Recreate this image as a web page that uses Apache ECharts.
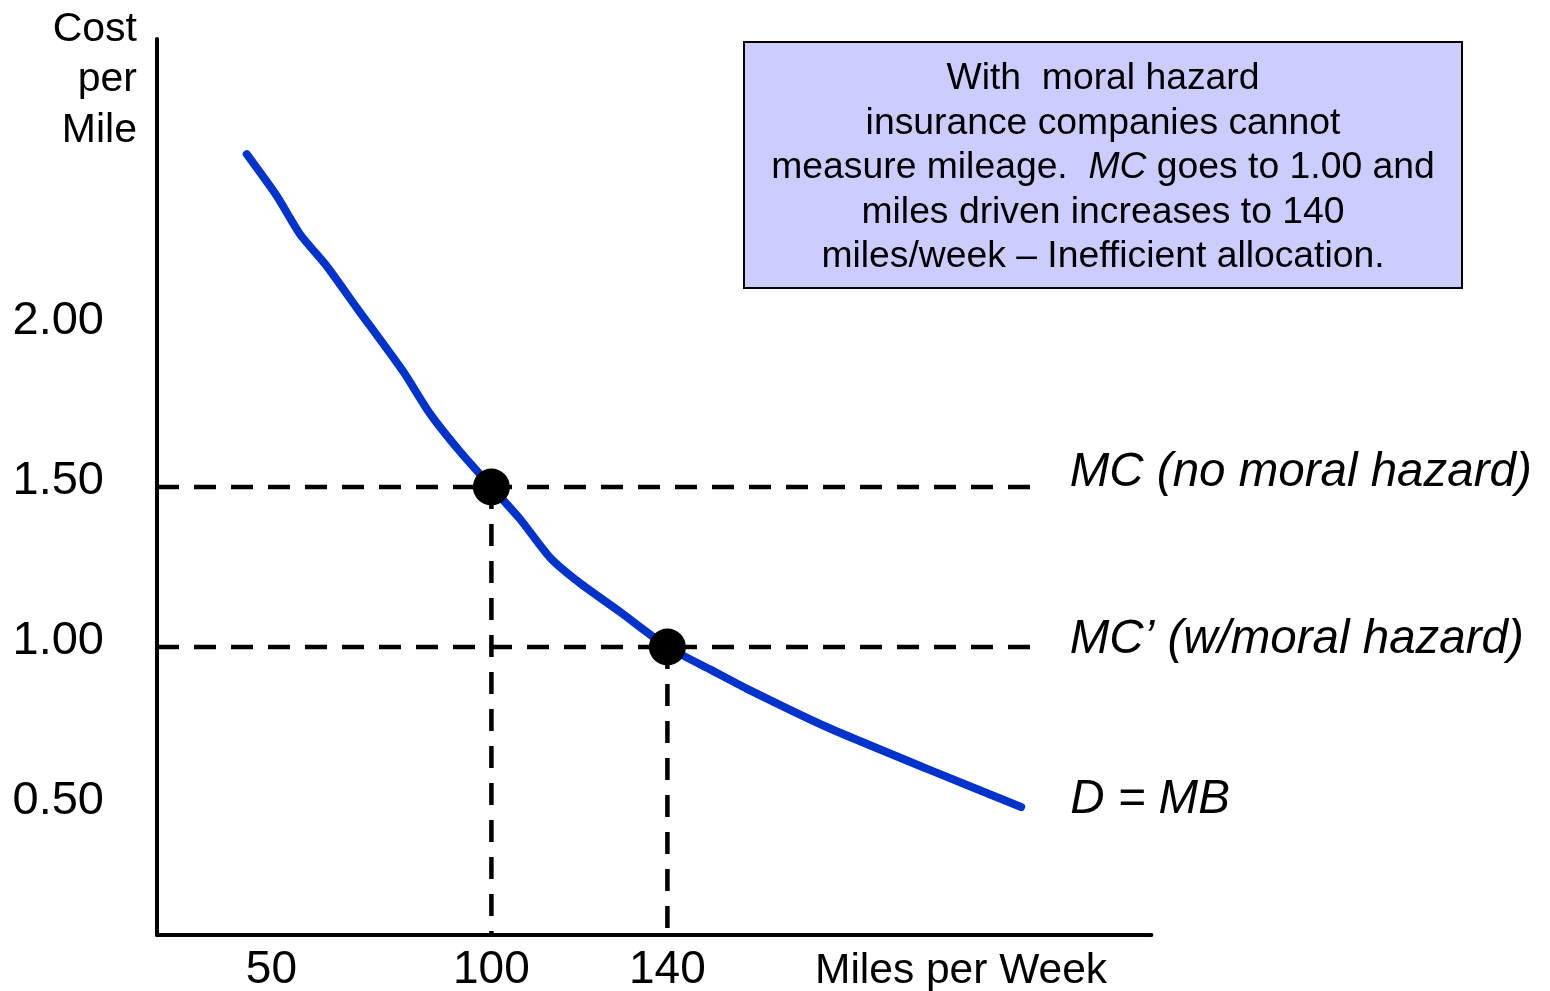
<!DOCTYPE html>
<html>
<head>
<meta charset="utf-8">
<script src="https://cdn.jsdelivr.net/npm/echarts@6/dist/echarts.min.js"></script>
<style>
  html, body { margin: 0; padding: 0; background: #fff; }
  #chart { width: 1550px; height: 991px; }
</style>
</head>
<body>
<div id="chart"></div>
<script>
// Demand (= marginal benefit) curve: miles driven per week vs cost per mile
const demandMiles = [44.4, 51.2, 56.5, 62.6, 69.4, 80.0, 86.0, 92.9, 100, 106.5, 113.3, 120.1, 129.2, 140, 149.7, 158, 176.2, 198.9, 220.4];
const demandCost  = [2.54, 2.41, 2.29, 2.19, 2.06, 1.86, 1.73, 1.61, 1.50, 1.40, 1.28, 1.20, 1.11, 1.00, 0.93, 0.87, 0.75, 0.62, 0.50];

// Marginal cost levels and the quantities where they meet demand
const mcLevels = [1.50, 1.00];
const mcLabels = ['MC (no moral hazard)', 'MC\u2019 (w/moral hazard)'];
const equilibriumMiles = [100, 140];
const mcLineEnd = 223.5;
const demandLabel = 'D = MB';

// Axis ticks and ranges
const xTicks = [50, 100, 140];
const yTicks = [0.50, 1.00, 1.50, 2.00];
const xRange = [24, 250];
const yRange = [0.1, 2.9];

const FONT = "'Liberation Sans', Arial, Helvetica, sans-serif";
const dash = [22, 15];
const labelOffsets = [-14, -7];

const series = [];

// Horizontal MC lines with their labels
mcLevels.forEach((level, i) => {
  series.push({
    type: 'line',
    data: [[xRange[0], level], [mcLineEnd, level]],
    showSymbol: false,
    silent: true,
    z: 2,
    lineStyle: { color: '#000', width: 4.5, type: dash },
    endLabel: {
      show: true,
      formatter: mcLabels[i],
      color: '#000',
      fontFamily: FONT,
      fontStyle: 'italic',
      fontSize: 47.5,
      distance: 35,
      offset: [0, labelOffsets[i]]
    }
  });
});

// Vertical drop lines from each intersection to the quantity axis
equilibriumMiles.forEach((miles, i) => {
  series.push({
    type: 'line',
    data: [[miles, mcLevels[i]], [miles, yRange[0]]],
    showSymbol: false,
    silent: true,
    z: 2,
    lineStyle: { color: '#000', width: 4.5, type: dash }
  });
});

// Demand curve
series.push({
  type: 'line',
  data: demandMiles.map((m, i) => [m, demandCost[i]]),
  smooth: 0.2,
  showSymbol: false,
  silent: true,
  z: 3,
  lineStyle: { color: '#0033cc', width: 8, cap: 'round', join: 'round' },
  endLabel: {
    show: true,
    formatter: demandLabel,
    color: '#000',
    fontFamily: FONT,
    fontStyle: 'italic',
    fontSize: 47.5,
    distance: 49,
    offset: [0, -7]
  }
});

// Intersection points
series.push({
  type: 'scatter',
  data: equilibriumMiles.map((m, i) => [m, mcLevels[i]]),
  symbol: 'circle',
  symbolSize: 37,
  silent: true,
  z: 4,
  itemStyle: { color: '#000', opacity: 1 }
});

const chart = echarts.init(document.getElementById('chart'), null, { renderer: 'canvas' });

chart.setOption({
  animation: false,
  backgroundColor: '#fff',
  grid: {
    left: 157,
    top: 39,
    width: 994.4,
    height: 896,
    containLabel: false,
    outerBoundsMode: 'none'
  },
  xAxis: {
    type: 'value',
    min: xRange[0],
    max: xRange[1],
    splitLine: { show: false },
    axisTick: { show: false },
    axisLine: { show: true, onZero: false, lineStyle: { color: '#000', width: 4 } },
    axisLabel: {
      customValues: xTicks,
      formatter: v => String(v),
      color: '#000',
      fontFamily: FONT,
      fontSize: 46,
      margin: 12
    }
  },
  yAxis: {
    type: 'value',
    min: yRange[0],
    max: yRange[1],
    splitLine: { show: false },
    axisTick: { show: false },
    axisLine: { show: true, onZero: false, lineStyle: { color: '#000', width: 4 } },
    axisLabel: {
      customValues: yTicks,
      formatter: v => '{v|' + v.toFixed(2) + '}',
      color: '#000',
      fontFamily: FONT,
      fontSize: 47,
      margin: 53,
      rich: {
        v: { color: '#000', fontFamily: FONT, fontSize: 47, padding: [0, 0, 12, 0] }
      }
    }
  },
  series: series,
  graphic: [
    {
      type: 'text',
      x: 137,
      y: 80,
      style: {
        text: 'Cost\nper\nMile',
        fill: '#000',
        font: '41px ' + FONT,
        align: 'right',
        verticalAlign: 'middle',
        lineHeight: 50.5
      }
    },
    {
      type: 'text',
      x: 815,
      y: 971,
      style: {
        text: 'Miles per Week',
        fill: '#000',
        font: '42.5px ' + FONT,
        align: 'left',
        verticalAlign: 'middle'
      }
    },
    {
      type: 'group',
      x: 744,
      y: 42,
      children: [
        {
          type: 'rect',
          shape: { x: 0, y: 0, width: 718, height: 246 },
          style: { fill: '#ccccff', stroke: '#000', lineWidth: 2 }
        },
        {
          type: 'text',
          x: 359,
          y: 126,
          style: {
            text: 'With  moral hazard\ninsurance companies cannot\nmeasure mileage.  {i|MC} goes to 1.00 and\nmiles driven increases to 140\nmiles/week \u2013 Inefficient allocation.',
            fill: '#000',
            fontFamily: FONT,
            fontSize: 37.3,
            lineHeight: 44.5,
            align: 'center',
            verticalAlign: 'middle',
            rich: {
              i: { fontStyle: 'italic', fontFamily: FONT, fontSize: 37.3, lineHeight: 44.5, fill: '#000' }
            }
          }
        }
      ]
    }
  ]
});
</script>
</body>
</html>
